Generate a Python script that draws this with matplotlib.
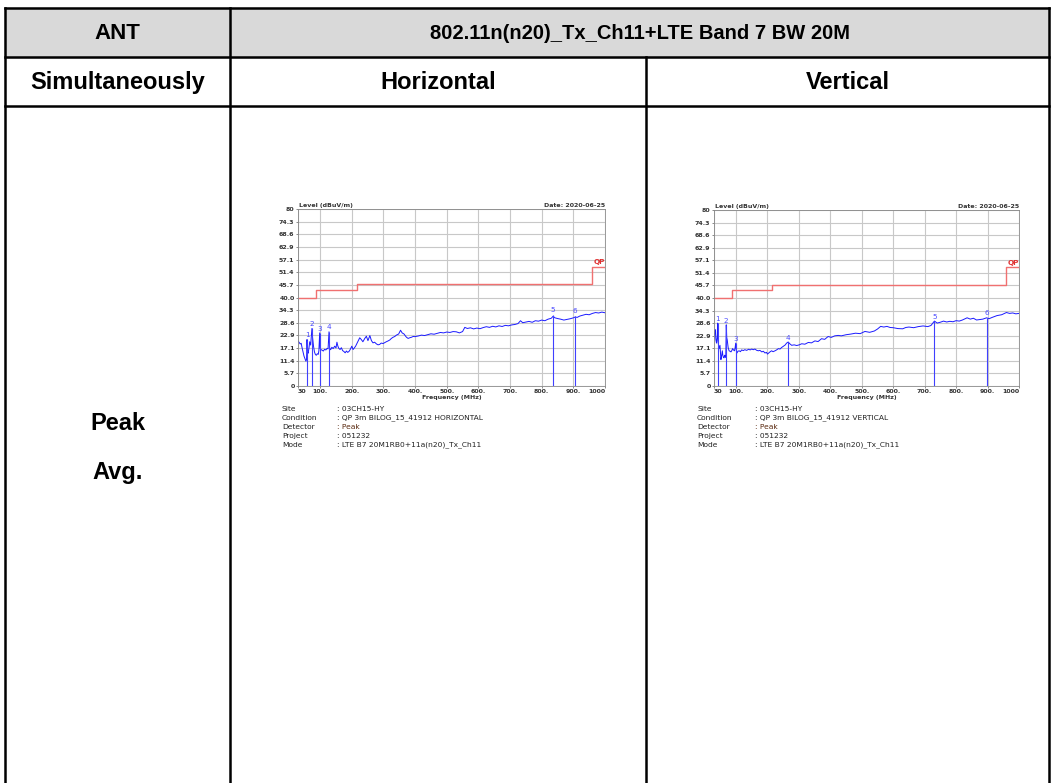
import numpy as np
import matplotlib.pyplot as plt

# ---- table text ----
hdr_ant = 'ANT'
hdr_mode = '802.11n(n20)_Tx_Ch11+LTE Band 7 BW 20M'
row2 = ['Simultaneously', 'Horizontal', 'Vertical']
row3 = ['Peak', 'Avg.']

# ---- EMI plot axis settings ----
yticks = [0, 5.7, 11.4, 17.1, 22.9, 28.6, 34.3, 40.0, 45.7, 51.4, 57.1, 62.9, 68.6, 74.3, 80]
ylabels = ['0', '5.7', '11.4', '17.1', '22.9', '28.6', '34.3', '40.0', '45.7',
           '51.4', '57.1', '62.9', '68.6', '74.3', '80']
xticks = [30, 100, 200, 300, 400, 500, 600, 700, 800, 900, 1000]
xlabels = ['30', '100.', '200.', '300.', '400.', '500.', '600.', '700.', '800.', '900.', '1000']

# QP limit (step line)
qp_freq = [30, 88, 88, 216, 216, 960, 960, 1000]
qp_level = [40.0, 40.0, 43.5, 43.5, 46.0, 46.0, 54.0, 54.0]

# Horizontal trace
h_freq = [30, 33, 37, 40, 43, 46, 49, 52, 55, 57, 58.5, 60, 62, 65, 67, 70, 72, 74, 76, 79,
          82, 85, 88, 91, 94, 96, 98.5, 100, 102, 106, 110, 114, 118, 122, 125, 128, 130, 133,
          137, 141, 146, 150, 153, 156, 159, 163, 167, 171, 175, 179, 183, 187, 191, 195, 200,
          204, 208, 212, 216, 220, 225, 230, 235, 241, 246, 251, 257, 262, 267, 272, 278, 283,
          288, 293, 299, 304, 309, 315, 320, 325, 330, 336, 341, 348, 354, 359, 365, 370, 373,
          378, 383, 388, 394, 399, 410, 420, 430, 440, 450, 460, 470, 480, 490, 500, 510, 520,
          530, 540, 550, 557, 565, 575, 585, 595, 605, 615, 625, 635, 645, 655, 665, 675, 685,
          695, 705, 715, 725, 733, 740, 750, 760, 770, 780, 790, 800, 810, 820, 830, 836, 842,
          850, 860, 870, 880, 890, 900, 906, 912, 920, 930, 940, 950, 960, 970, 980, 990, 1000]
h_level = [20.4, 19.8, 19.0, 19.3, 17.2, 15.4, 13.5, 12.4, 11.2, 12.0, 21.0, 15.4, 14.8, 17.5, 20.0, 18.5, 22.0, 26.0, 22.0, 18.0,
           15.4, 14.2, 13.9, 14.6, 14.3, 16.0, 24.0, 17.0, 16.5, 16.2, 15.8, 16.6, 16.3, 17.0, 16.8, 24.5, 17.0, 16.4,
           17.5, 16.9, 18.0, 17.2, 19.8, 18.0, 17.0, 16.5, 17.3, 16.0, 15.6, 15.0, 15.8, 15.2, 15.6, 16.5, 18.0,
           16.5, 17.2, 18.0, 19.2, 20.5, 21.8, 21.0, 20.0, 21.5, 22.5, 20.5, 22.8, 20.5, 19.5, 19.8, 19.0, 18.6,
           18.8, 19.4, 19.2, 19.6, 20.0, 20.4, 20.8, 21.5, 22.0, 22.4, 23.0, 23.5, 25.2, 24.0, 23.5, 22.5, 22.0,
           21.5, 21.8, 22.0, 22.4, 22.3, 22.6, 23.0, 22.8, 23.2, 23.6, 23.4, 23.8, 24.2, 24.0, 24.4, 24.2, 24.6,
           24.5, 24.0, 24.6, 26.5, 26.0, 26.3, 25.8, 26.2, 25.9, 26.4, 26.8, 26.5, 27.0, 26.7, 27.2, 26.9, 27.4,
           27.2, 27.6, 27.8, 28.2, 29.5, 28.6, 28.9, 29.2, 28.8, 29.5, 29.3, 29.8, 29.5, 30.2, 30.6, 31.5, 30.8,
           30.5, 30.2, 29.8, 30.1, 30.4, 30.8, 31.2, 31.0, 31.6, 32.0, 32.4, 32.2, 32.8, 33.2, 33.0, 33.4, 33.1]

# Vertical trace
v_freq = [30, 32, 34, 36, 38, 40, 41.7, 43, 46, 49, 52, 54, 56.5, 58, 60, 62, 64, 66, 67.5, 69,
          70.5, 72, 75, 78, 81, 84, 87, 89, 92, 95, 97, 99, 101, 103, 106, 110, 114, 118, 123,
          128, 134, 140, 145, 150, 155, 160, 166, 171, 176, 182, 187, 192, 197, 200, 204, 208,
          213, 218, 224, 229, 235, 240, 245, 250, 256, 261, 266, 271, 277, 285, 293, 301, 309,
          319, 330, 340, 351, 361, 372, 382, 393, 403, 414, 425, 435, 450, 465, 480, 495, 510,
          525, 540, 550, 560, 570, 580, 590, 600, 615, 630, 640, 650, 665, 680, 695, 710, 720,
          731, 740, 750, 760, 770, 780, 790, 800, 810, 820, 835, 845, 855, 865, 875, 885, 897,
          905, 915, 930, 945, 960, 970, 980, 990, 1000]
v_level = [21.5, 24.0, 25.6, 21.0, 19.5, 22.0, 28.6, 20.0, 17.0, 18.5, 12.0, 13.5, 16.0, 14.0, 13.0, 12.8, 14.0, 13.5, 13.0, 27.8,
           22.0, 21.0, 17.5, 16.0, 15.8, 15.5, 16.2, 17.0, 16.4, 16.0, 17.2, 19.5, 16.0, 15.0, 15.8, 16.0, 15.6, 16.4, 16.1,
           16.5, 16.2, 16.7, 16.4, 16.8, 16.5, 16.8, 16.2, 16.0, 16.2, 15.5, 15.8, 15.0, 15.3, 14.5, 15.0, 15.5,
           16.0, 15.6, 16.0, 16.4, 17.0, 16.8, 17.5, 18.0, 18.6, 19.5, 20.0, 19.2, 18.5, 18.7, 18.4, 18.7, 19.2,
           19.0, 19.8, 19.6, 20.5, 20.2, 21.5, 21.2, 22.5, 22.1, 22.8, 23.0, 22.8, 23.3, 23.6, 24.0, 23.8, 24.8,
           24.4, 25.0, 25.9, 27.1, 26.8, 27.1, 26.6, 26.5, 26.1, 26.0, 26.6, 26.8, 26.5, 27.0, 27.3, 27.0, 27.5,
           29.5, 28.6, 29.0, 29.5, 29.1, 29.4, 29.2, 29.7, 29.5, 30.0, 31.0, 30.4, 30.8, 30.0, 30.2, 30.4, 31.0,
           30.6, 31.2, 32.0, 32.4, 33.4, 33.0, 33.2, 32.8, 33.0]

# Marker peaks: (freq, level)
h_mk_freq = [58.5, 74, 98.5, 128, 836, 906]
h_mk_level = [21.0, 26.0, 24.0, 24.5, 32.2, 31.8]
v_mk_freq = [41.7, 69, 99, 266, 731, 897]
v_mk_level = [28.6, 27.8, 19.5, 20.0, 29.5, 31.0]

info_keys = ['Site', 'Condition', 'Detector', 'Project', 'Mode']
h_info = [': 03CH15-HY', ': QP 3m BILOG_15_41912 HORIZONTAL', ': Peak', ': 051232',
          ': LTE B7 20M1RB0+11a(n20)_Tx_Ch11']
v_info = [': 03CH15-HY', ': QP 3m BILOG_15_41912 VERTICAL', ': Peak', ': 051232',
          ': LTE B7 20M1RB0+11a(n20)_Tx_Ch11']

W, H = 1051, 783
fig = plt.figure(figsize=(W / 100, H / 100), dpi=100)
bg = fig.add_axes([0, 0, 1, 1])
bg.set_xlim(0, W)
bg.set_ylim(H, 0)
bg.axis('off')

# table geometry in pixels
xl, xc1, xc2, xr = 5, 230, 646, 1049
yt, y1, y2 = 8, 57, 106
bg.fill_between([xl, xr], yt, y1, color='#d9d9d9', zorder=0)
lw = 1.8
for y in [yt, y1, y2]:
    bg.plot([xl, xr], [y, y], color='k', lw=lw)
for x in [xl, xr]:
    bg.plot([x, x], [yt, H], color='k', lw=lw)
bg.plot([xc1, xc1], [yt, H], color='k', lw=lw)
bg.plot([xc2, xc2], [y1, H], color='k', lw=lw)

tf = dict(fontsize=17, fontweight='bold', family='Liberation Sans', ha='center', va='center')
bg.text((xl + xc1) / 2, (yt + y1) / 2 + 1, hdr_ant, **dict(tf, fontsize=16))
bg.text((xc1 + xr) / 2, (yt + y1) / 2 + 1, hdr_mode, **dict(tf, fontsize=14.5))
bg.text((xl + xc1) / 2, (y1 + y2) / 2 + 1, row2[0], **tf)
bg.text((xc1 + xc2) / 2, (y1 + y2) / 2 + 1, row2[1], **tf)
bg.text((xc2 + xr) / 2, (y1 + y2) / 2 + 1, row2[2], **tf)
bg.text((xl + xc1) / 2, 423, row3[0], **tf)
bg.text((xl + xc1) / 2, 472, row3[1], **tf)


def emi_plot(box, freq, level, mk_freq, mk_level, info, info_x, colon_x):
    x0, y0, x1, y1_ = box
    ax = fig.add_axes([x0 / W, 1 - y1_ / H, (x1 - x0) / W, (y1_ - y0) / H])
    ax.set_xlim(30, 1000)
    ax.set_ylim(0, 80)
    ax.set_yticks(yticks)
    ax.set_yticklabels(ylabels)
    ax.set_xticks(xticks)
    ax.set_xticklabels(xlabels)
    for i, t in enumerate(ax.get_xticklabels()):
        if i == 0:
            t.set_ha('left')
        elif i == len(xticks) - 1:
            t.set_ha('right')
    ax.tick_params(labelsize=4.5, length=1.5, width=0.4, pad=1, colors='#333333')
    for t in ax.get_xticklabels() + ax.get_yticklabels():
        t.set_fontweight('bold')
    ax.grid(True, color='#c8c8c8', lw=0.8)
    for s in ax.spines.values():
        s.set_color('#888888')
        s.set_linewidth(0.6)
    ax.plot(qp_freq, qp_level, color='#f07070', lw=1.0)
    ax.text(1000, 54.6, 'QP', color='#e03030', fontsize=5.2, fontweight='bold', ha='right', va='bottom')
    ax.plot(freq, level, color='#1a1aff', lw=0.7)
    for i, (f, l) in enumerate(zip(mk_freq, mk_level)):
        ax.vlines(f, 0, l, color='#4040ff', lw=0.8)
        ax.text(f, l + 0.6, str(i + 1), color='#4a4aff', fontsize=5.2, ha='center', va='bottom')
    ax.text(0.003, 1.005, 'Level (dBuV/m)', transform=ax.transAxes, fontsize=4.5,
            fontweight='bold', color='#333333', ha='left', va='bottom')
    ax.text(1.0, 1.005, 'Date: 2020-06-25', transform=ax.transAxes, fontsize=4.5,
            fontweight='bold', color='#333333', ha='right', va='bottom')
    ax.set_xlabel('Frequency (MHz)', fontsize=4.5, fontweight='bold', color='#333333', labelpad=0.5)
    for i, (k, v) in enumerate(zip(info_keys, info)):
        yy = 409 + i * 9
        bg.text(info_x, yy, k, fontsize=5.4, color='#222222', va='center', family='DejaVu Sans')
        bg.text(colon_x, yy, v, fontsize=5.4, color='#5a2a10' if k == 'Detector' else '#222222',
                va='center', family='DejaVu Sans')
    return ax


emi_plot((298, 209, 605, 386), h_freq, h_level, h_mk_freq, h_mk_level, h_info, 282, 337)
emi_plot((714, 210, 1019, 386), v_freq, v_level, v_mk_freq, v_mk_level, v_info, 697, 755)

fig.savefig('out.png', dpi=100)
